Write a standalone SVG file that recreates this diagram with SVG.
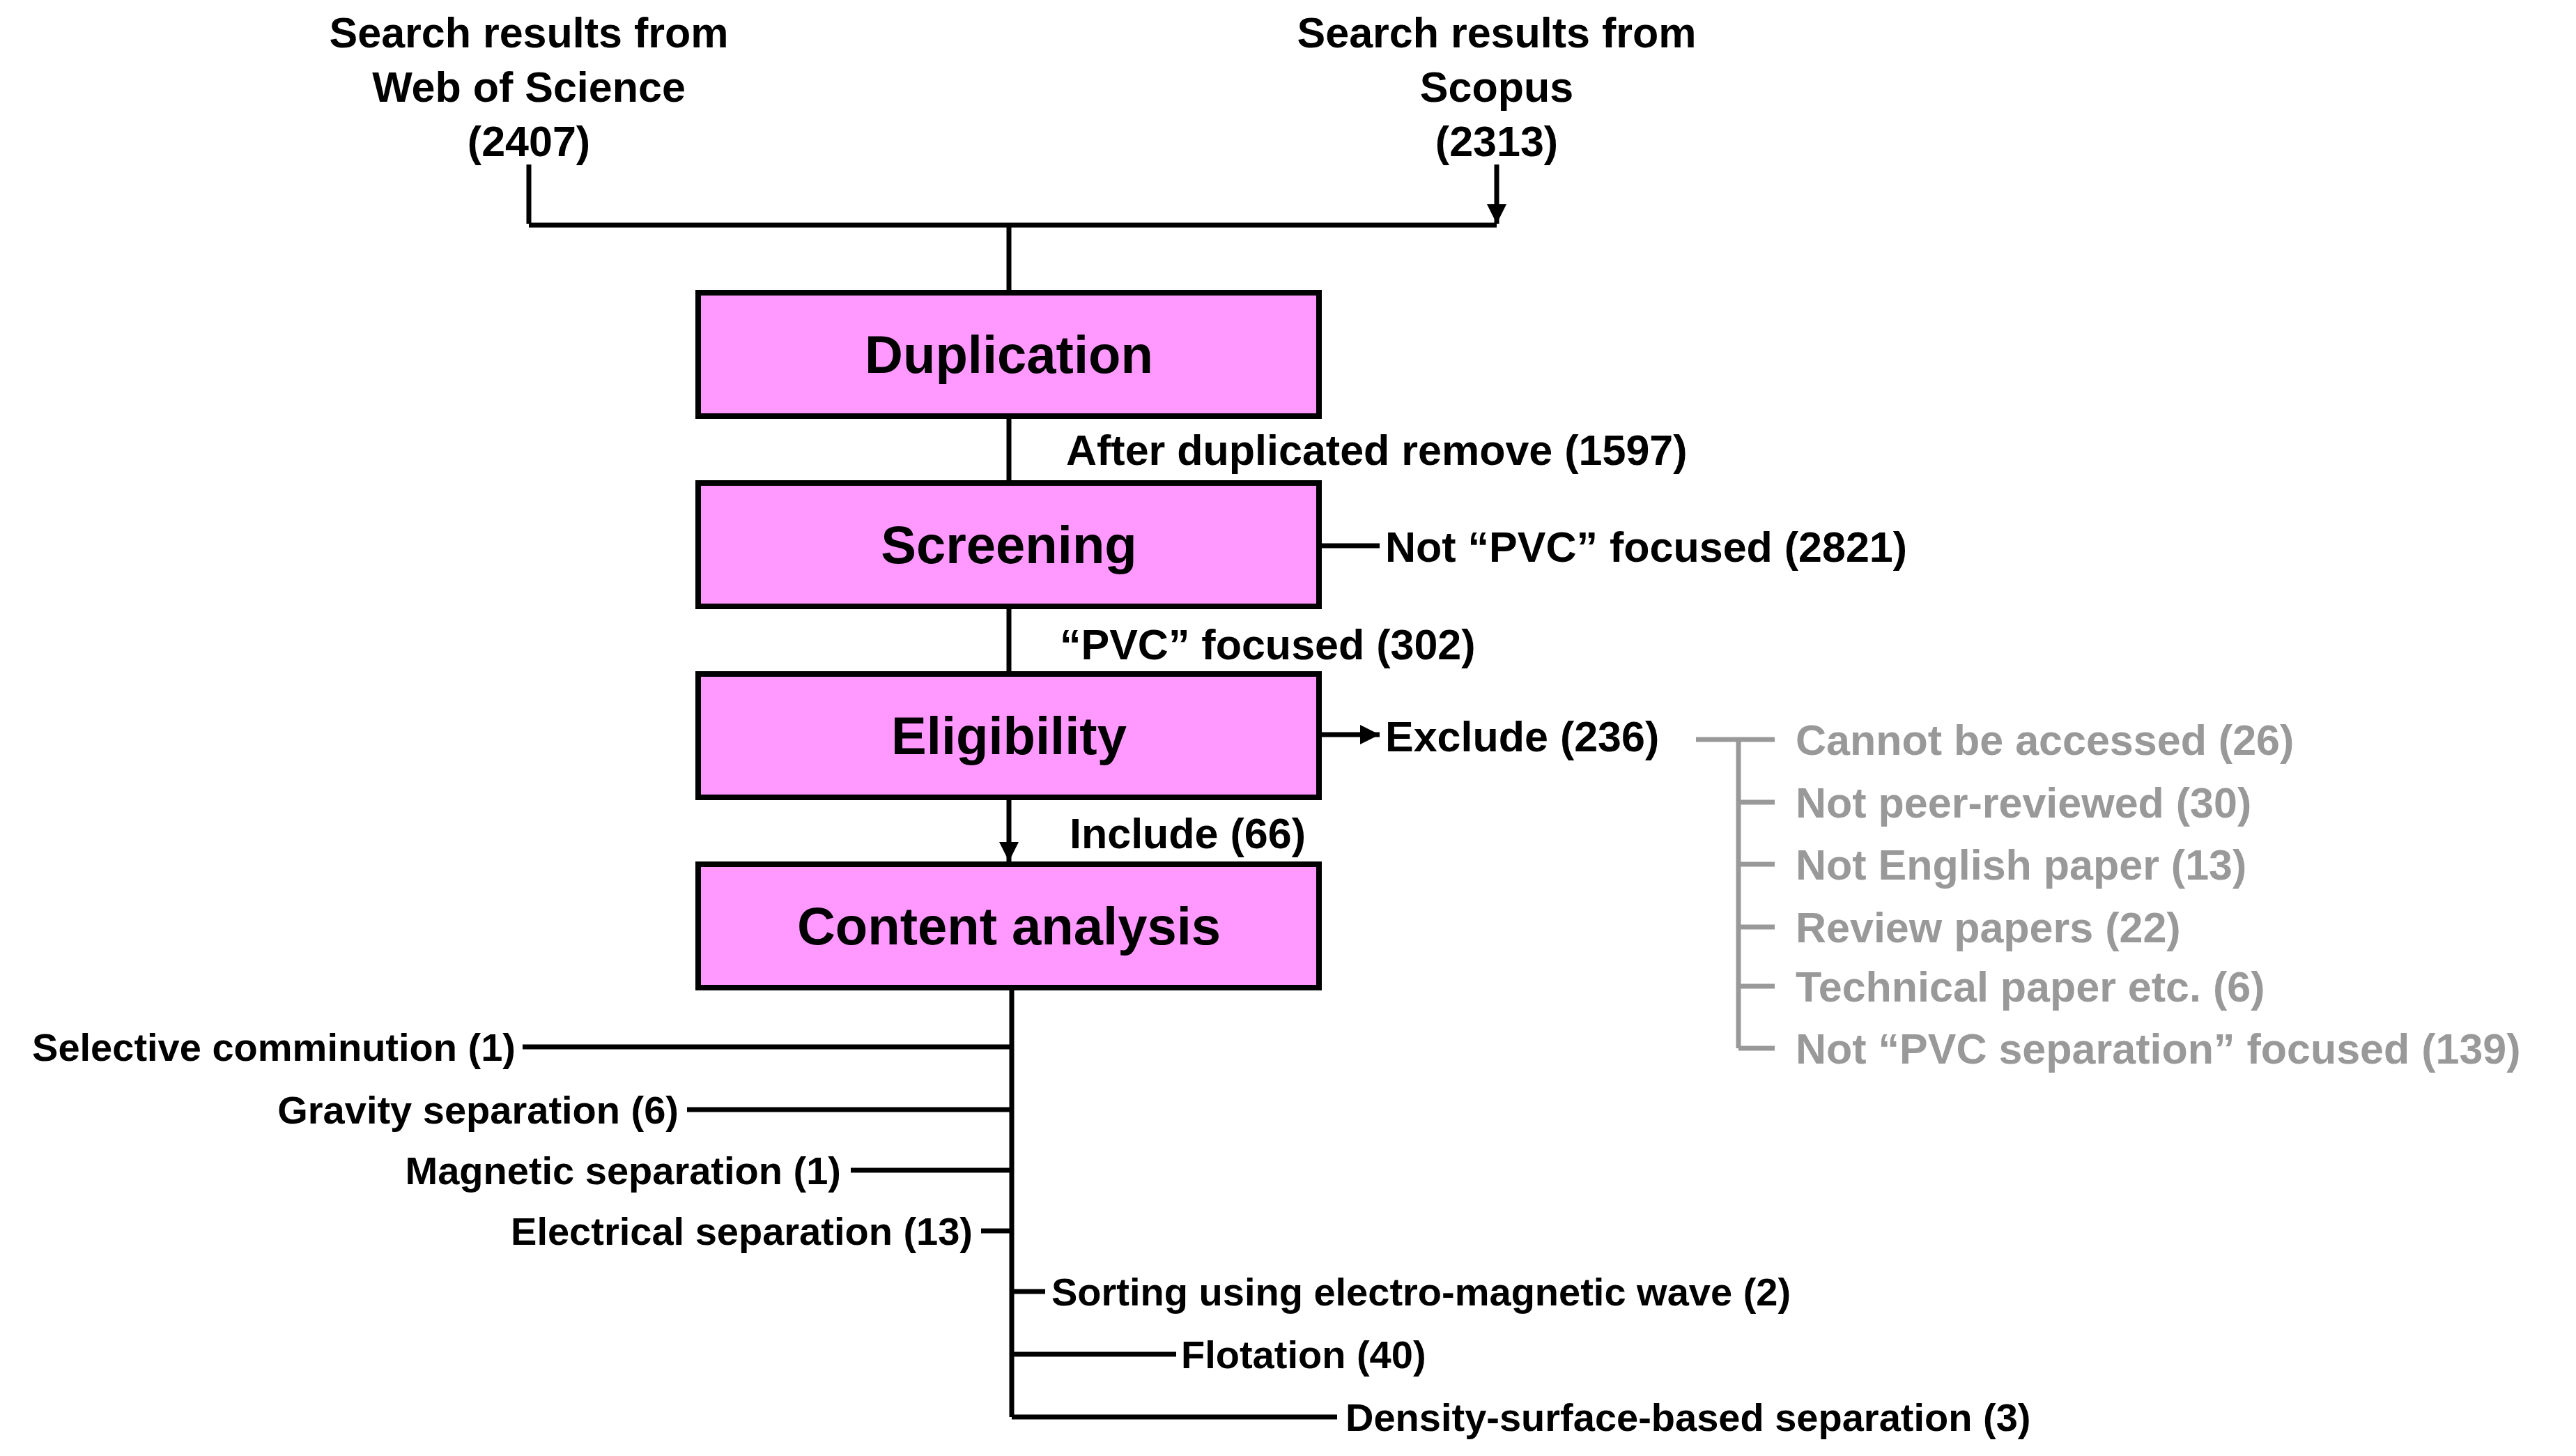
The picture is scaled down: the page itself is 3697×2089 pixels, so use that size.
<svg xmlns="http://www.w3.org/2000/svg" width="3697" height="2089" viewBox="0 0 3697 2089">
<style>
text{font-family:"Liberation Sans",Arial,sans-serif;font-weight:bold;fill:#000}
.t{font-size:61px}
.b{font-size:76px}
.s{font-size:56px}
.g{fill:#999;font-size:61px}
.box{fill:#ff99ff;stroke:#000;stroke-width:8}
.l{stroke:#000;stroke-width:7;fill:none}
.gl{stroke:#999;stroke-width:7;fill:none}
</style>
<defs><marker id="a" viewBox="0 0 10 10" refX="10" refY="5" markerWidth="4" markerHeight="4" orient="auto" markerUnits="strokeWidth"><path d="M0,0L10,5L0,10z" fill="#000"/></marker></defs>
<g id="wos"><text class="t" x="759" y="68" text-anchor="middle">Search results from</text><text class="t" x="759" y="146" text-anchor="middle">Web of Science</text><text class="t" x="759" y="224" text-anchor="middle">(2407)</text></g>
<g id="scopus"><text class="t" x="2148" y="68" text-anchor="middle">Search results from</text><text class="t" x="2148" y="146" text-anchor="middle">Scopus</text><text class="t" x="2148" y="224" text-anchor="middle">(2313)</text></g>
<g id="duplication"><rect class="box" x="1002" y="420" width="891" height="177"/><text class="b" x="1448" y="535" text-anchor="middle">Duplication</text></g>
<g id="screening"><rect class="box" x="1002" y="693" width="891" height="177"/><text class="b" x="1448" y="808" text-anchor="middle">Screening</text></g>
<g id="eligibility"><rect class="box" x="1002" y="967" width="891" height="177"/><text class="b" x="1448" y="1082" text-anchor="middle">Eligibility</text></g>
<g id="content"><rect class="box" x="1002" y="1240" width="891" height="177"/><text class="b" x="1448" y="1355" text-anchor="middle">Content analysis</text></g>
<g id="connectors">
<path class="l" d="M759,236V321M2148,236V321" marker-end="url(#a)"/>
<path class="l" d="M759,323H2148"/>
<path class="l" d="M1448,323V416M1448,601V689M1448,874V963M1448,1148V1236" marker-end="url(#a)"/>
<path class="l" d="M1893,783H1980M1893,1054H1980" marker-end="url(#a)"/>
<path class="l" d="M1452,1421V2033M750,1502H1452M986,1592H1452M1221,1679H1452M1408,1766H1452M1452,1853H1500M1452,1943H1688M1452,2033H1919"/>
<path class="gl" d="M2434,1061H2547M2495,1061V1504M2495,1151H2547M2495,1240H2547M2495,1330H2547M2495,1415H2547M2495,1504H2547"/>
</g>
<g id="labels">
<text class="t" x="1530" y="667">After duplicated remove (1597)</text>
<text class="t" x="1988" y="806">Not “PVC” focused (2821)</text>
<text class="t" x="1521" y="946">“PVC” focused (302)</text>
<text class="t" x="1988" y="1078">Exclude (236)</text>
<text class="t" x="1535" y="1217">Include (66)</text>
</g>
<g id="excluded">
<text class="g" x="2577" y="1083">Cannot be accessed (26)</text>
<text class="g" x="2577" y="1173">Not peer-reviewed (30)</text>
<text class="g" x="2577" y="1262">Not English paper (13)</text>
<text class="g" x="2577" y="1352">Review papers (22)</text>
<text class="g" x="2577" y="1437">Technical paper etc. (6)</text>
<text class="g" x="2577" y="1526">Not “PVC separation” focused (139)</text>
</g>
<g id="methods">
<text class="s" x="740" y="1522" text-anchor="end">Selective comminution (1)</text>
<text class="s" x="974" y="1612" text-anchor="end">Gravity separation (6)</text>
<text class="s" x="1207" y="1699" text-anchor="end">Magnetic separation (1)</text>
<text class="s" x="1396" y="1786" text-anchor="end">Electrical separation (13)</text>
<text class="s" x="1509" y="1873">Sorting using electro-magnetic wave (2)</text>
<text class="s" x="1695" y="1963">Flotation (40)</text>
<text class="s" x="1931" y="2053">Density-surface-based separation (3)</text>
</g>
</svg>
